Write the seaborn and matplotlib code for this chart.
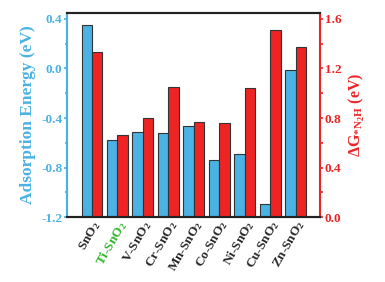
import matplotlib
matplotlib.use("Agg")
import matplotlib.pyplot as plt
from matplotlib.ticker import MultipleLocator
import seaborn as sns
import pandas as pd
import numpy as np

categories = ["SnO$_2$", "Ti-SnO$_2$", "V-SnO$_2$", "Cr-SnO$_2$", "Mn-SnO$_2$",
              "Co-SnO$_2$", "Ni-SnO$_2$", "Cu-SnO$_2$", "Zn-SnO$_2$"]
adsorption = [0.35, -0.58, -0.51, -0.52, -0.465, -0.74, -0.69, -1.09, -0.01]
delta_g = [1.33, 0.66, 0.80, 1.05, 0.77, 0.76, 1.04, 1.51, 1.375]
ads_base = -1.2

sns.set_theme(style="ticks")
plt.rcParams["font.family"] = ["Liberation Serif", "DejaVu Serif"]
plt.rcParams["font.weight"] = "bold"
plt.rcParams["mathtext.fontset"] = "custom"
plt.rcParams["mathtext.rm"] = "Liberation Serif:bold"
plt.rcParams["mathtext.it"] = "Liberation Serif:bold"
plt.rcParams["mathtext.bf"] = "Liberation Serif:bold"

blue = "#4AB2E4"
red = "#EE2424"
hue_order = ["ads", "dg"]
nan = [np.nan] * len(categories)

df_ads = pd.DataFrame({"cat": categories * 2,
                       "val": [v - ads_base for v in adsorption] + nan,
                       "s": ["ads"] * len(categories) + ["dg"] * len(categories)})
df_dg = pd.DataFrame({"cat": categories * 2,
                      "val": nan + delta_g,
                      "s": ["ads"] * len(categories) + ["dg"] * len(categories)})

fig = plt.figure(figsize=(3.85, 2.82), dpi=100)
ax1 = fig.add_axes([0.174, 0.230, 0.657, 0.725])
ax2 = ax1.twinx()

sns.barplot(data=df_ads, x="cat", y="val", hue="s", hue_order=hue_order, order=categories,
            palette={"ads": blue, "dg": red}, width=0.82, bottom=ads_base,
            edgecolor="#333333", linewidth=0.8, legend=False, ax=ax1, saturation=1)
sns.barplot(data=df_dg, x="cat", y="val", hue="s", hue_order=hue_order, order=categories,
            palette={"ads": blue, "dg": red}, width=0.82,
            edgecolor="#333333", linewidth=0.8, legend=False, ax=ax2, saturation=1)

ax1.set_xlim(-0.98, 8.95)
ax1.set_ylim(-1.2, 0.45)
ax2.set_ylim(0.0, 1.65)
ax1.yaxis.set_minor_locator(MultipleLocator(0.2))
ax2.yaxis.set_minor_locator(MultipleLocator(0.2))

ax1.set_yticks([-1.2, -0.8, -0.4, 0.0, 0.4])
ax1.set_yticklabels(["-1.2", "-0.8", "-0.4", "0.0", "0.4"])
ax2.set_yticks([0.0, 0.4, 0.8, 1.2, 1.6])
ax2.set_yticklabels(["0.0", "0.4", "0.8", "1.2", "1.6"])

for ax in (ax1, ax2):
    ax.spines["top"].set_color("#222222")
    ax.spines["bottom"].set_color("#222222")
    ax.spines["top"].set_linewidth(1.5)
    ax.spines["bottom"].set_linewidth(1.5)
ax1.spines["left"].set_color(blue)
ax1.spines["left"].set_linewidth(1.5)
ax2.spines["left"].set_color(blue)
ax2.spines["left"].set_linewidth(1.5)
ax2.spines["right"].set_color(red)
ax2.spines["right"].set_linewidth(1.5)
ax1.spines["right"].set_visible(False)

ax1.tick_params(axis="y", which="both", direction="out", colors=blue, labelsize=9.5, width=1.2, pad=0.8)
ax1.tick_params(axis="y", which="major", length=2.5)
ax1.tick_params(axis="y", which="minor", length=1.8)
ax2.tick_params(axis="y", which="both", direction="out", colors=red, labelsize=9.5, width=1.2, pad=0.8)
ax2.tick_params(axis="y", which="major", length=2.5)
ax2.tick_params(axis="y", which="minor", length=1.8)
ax1.tick_params(axis="x", length=0, labelsize=9.5, pad=1)

ax1.set_xticks(range(len(categories)))
ax1.set_xticklabels(categories, rotation=60, ha="right", rotation_mode="anchor", fontweight="bold")
xlabs = ax1.get_xticklabels()
xlabs[1].set_color("#2DB52D")
for lab in ax1.get_yticklabels() + ax2.get_yticklabels():
    lab.set_fontweight("bold")

ax1.set_xlabel("")
ax2.set_xlabel("")
ax1.set_ylabel("Adsorption Energy (eV)", color=blue, fontsize=12.5, fontweight="bold", labelpad=3.5)
ax2.set_ylabel(r"$\Delta$G$_{\mathregular{{*}N_{2}H}}$ (eV)", color=red, fontsize=11.5,
               fontweight="bold", labelpad=4)

fig.savefig("out.png", dpi=100)
